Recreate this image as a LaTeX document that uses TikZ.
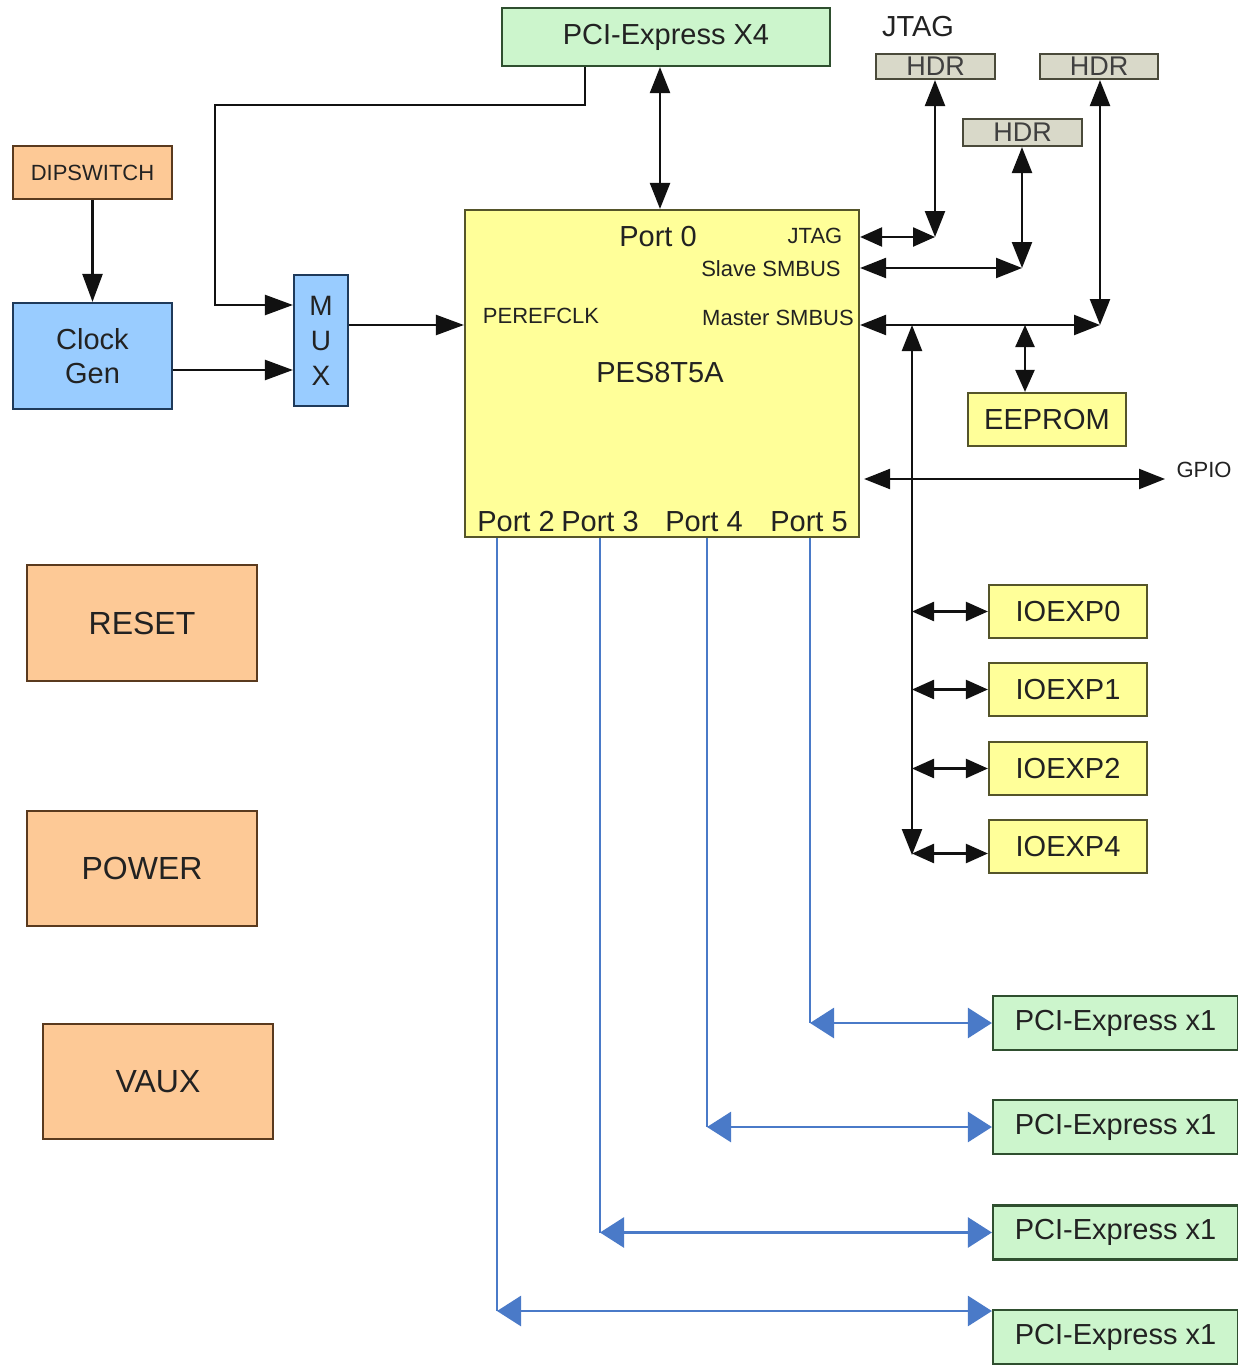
\documentclass[tikz,border=0pt]{standalone}
\usepackage{fontspec}
\setmainfont{Liberation Sans}
\usetikzlibrary{arrows.meta,calc}
\definecolor{txt}{HTML}{222222}
\definecolor{ln}{HTML}{111111}
\definecolor{gfill}{HTML}{CCF5CC}
\definecolor{gline}{HTML}{2F4F2F}
\definecolor{yfill}{HTML}{FFFF99}
\definecolor{yline}{HTML}{55552A}
\definecolor{ofill}{HTML}{FDC996}
\definecolor{oline}{HTML}{5A3A1E}
\definecolor{bfill}{HTML}{99CCFF}
\definecolor{bline}{HTML}{1F3A5A}
\definecolor{hfill}{HTML}{D9D9C9}
\definecolor{hline}{HTML}{4A4A3A}
\definecolor{bl}{HTML}{4A7AC8}
\newcommand\bigf{\fontsize{29}{34}\selectfont}
\newcommand\smallf{\fontsize{22}{26}\selectfont}
\newcommand\resf{\fontsize{32}{36}\selectfont}
\begin{document}
\begin{tikzpicture}[x=1pt,y=-1pt,
  box/.style={draw, line width=2.2pt, inner sep=0pt, align=center, text=txt, font=\bigf},
  gbox/.style={box, fill=gfill, draw=gline},
  ybox/.style={box, fill=yfill, draw=yline},
  obox/.style={box, fill=ofill, draw=oline},
  bbox/.style={box, fill=bfill, draw=bline},
  hbox/.style={box, fill=hfill, draw=hline, font=\fontsize{27}{30}\selectfont, text=black!75},
  lbl/.style={inner sep=0pt, text=txt, font=\bigf},
  slbl/.style={inner sep=0pt, text=txt, font=\smallf},
  arr/.style={line width=2.4pt, draw=ln, -{Triangle[length=28pt,width=20pt]}},
  dbl/.style={line width=2.4pt, draw=ln, {Triangle[length=26pt,width=20pt]}-{Triangle[length=26pt,width=20pt]}},
  sdbl/.style={line width=2.4pt, draw=ln, {Triangle[length=22pt,width=19pt]}-{Triangle[length=22pt,width=19pt]}},
  bplain/.style={line width=2pt, draw=bl},
  bdbl/.style={line width=2.6pt, draw=bl, {Triangle[length=24pt,width=30pt]}-{Triangle[length=24pt,width=30pt]}}
]
\useasboundingbox (0,0) rectangle (1238,1365);
\fill[white] (0,0) rectangle (1238,1365);

% boxes
\node[gbox, minimum width=328pt, minimum height=58pt] (pcix4) at (666,37) {PCI-Express X4};
\node[lbl] (jtaglbl) at (918,27) {JTAG};
\node[hbox, minimum width=119pt, minimum height=25pt] (hdr1) at (935.5,66.5) {HDR};
\node[hbox, minimum width=118pt, minimum height=25pt] (hdr2) at (1099,66.5) {HDR};
\node[hbox, minimum width=119pt, minimum height=27pt] (hdr3) at (1022.5,132.5) {HDR};
\node[obox, minimum width=159pt, minimum height=53pt, font=\smallf] (dip) at (92.5,172.5) {DIPSWITCH};
\node[bbox, minimum width=159pt, minimum height=106pt] (clk) at (92.5,356) {Clock\\Gen};
\node[bbox, minimum width=54pt, minimum height=131pt, font=\fontsize{28}{35}\selectfont] (mux) at (321,340.5) {M\\U\\X};
\node[ybox, minimum width=394pt, minimum height=327pt] (pes) at (662,373.5) {};
\node[ybox, minimum width=158pt, minimum height=53pt] (eeprom) at (1047,419.5) {EEPROM};
\node[ybox, minimum width=158pt, minimum height=53pt] (io0) at (1068,611.5) {IOEXP0};
\node[ybox, minimum width=158pt, minimum height=53pt] (io1) at (1068,689.5) {IOEXP1};
\node[ybox, minimum width=158pt, minimum height=53pt] (io2) at (1068,768.5) {IOEXP2};
\node[ybox, minimum width=158pt, minimum height=53pt] (io4) at (1068,846.5) {IOEXP4};
\node[obox, minimum width=230pt, minimum height=116pt, font=\resf] (reset) at (142,623) {RESET};
\node[obox, minimum width=230pt, minimum height=115pt, font=\resf] (power) at (142,868.5) {POWER};
\node[obox, minimum width=230pt, minimum height=115pt, font=\resf] (vaux) at (158,1081.5) {VAUX};
\node[gbox, minimum width=245pt, minimum height=54pt] (pe1) at (1115.5,1023) {PCI-Express x1};
\node[gbox, minimum width=245pt, minimum height=54pt] (pe2) at (1115.5,1127) {PCI-Express x1};
\node[gbox, minimum width=245pt, minimum height=54pt] (pe3) at (1115.5,1232.5) {PCI-Express x1};
\node[gbox, minimum width=245pt, minimum height=54pt] (pe4) at (1115.5,1337) {PCI-Express x1};

% labels inside PES
\node[lbl] (port0) at (658,237) {Port 0};
\node[slbl] (jtagin) at (815,236) {JTAG};
\node[slbl] (slave) at (771,269) {Slave SMBUS};
\node[slbl] (master) at (778,318) {Master SMBUS};
\node[slbl] (perefclk) at (541,316) {PEREFCLK};
\node[lbl] (pesname) at (660,373) {PES8T5A};
\node[lbl] (port2) at (516,522) {Port 2};
\node[lbl] (port3) at (600,522) {Port 3};
\node[lbl] (port4) at (704,522) {Port 4};
\node[lbl] (port5) at (809,522) {Port 5};
\node[slbl] (gpio) at (1204,470) {GPIO};

% coordinates
\coordinate (muxfeed) at (215,105);
\coordinate (jc) at (935,237);
\coordinate (sc) at (1022,268);
\coordinate (mc) at (1100,325);
\coordinate (ee) at (1025,325);
\coordinate (bt) at (912,325);
\coordinate (bb) at (912,855);
\coordinate (gp) at (1165,479);
\coordinate (c5) at (810,1023);
\coordinate (c4) at (707,1127);
\coordinate (c3) at (600,1232.5);
\coordinate (c2) at (497,1311);

% black connectors
\draw[dbl] ([xshift=-6pt]pcix4.south) -- ([xshift=-6pt]pcix4.south |- pes.north);
\draw[arr] ([xshift=-81pt]pcix4.south) |- (muxfeed) |- ([yshift=35.5pt]mux.west);
\draw[arr] (dip.south) -- (clk.north);
\draw[arr] ([yshift=-14pt]clk.east) -- ([yshift=-14pt]clk.east -| mux.west);
\draw[arr] ([yshift=15.5pt]mux.east) -- ([yshift=15.5pt]mux.east -| pes.west);
\draw[sdbl] (pes.east |- jc) -- (jc);
\draw[dbl] (jc |- hdr1.south) -- (jc);
\draw[dbl] (pes.east |- sc) -- (sc);
\draw[dbl] (sc |- hdr3.south) -- (sc);
\draw[dbl] (pes.east |- mc) -- (mc);
\draw[dbl] (mc |- hdr2.south) -- (mc);
\draw[sdbl] (ee) -- (ee |- eeprom.north);
\draw[dbl] (bt) -- (bb);
\draw[sdbl] (bb |- io0.west) -- (io0.west);
\draw[sdbl] (bb |- io1.west) -- (io1.west);
\draw[sdbl] (bb |- io2.west) -- (io2.west);
\draw[sdbl] ([yshift=-7pt]bb |- io4.west) -- ([yshift=-7pt]io4.west);
\draw[dbl] ([xshift=4pt]pes.east |- gp) -- (gp);

% blue connectors
\draw[bplain] (c5 |- pes.south) -- (c5);
\draw[bdbl] (c5) -- (c5 -| pe1.west);
\draw[bplain] (c4 |- pes.south) -- (c4);
\draw[bdbl] (c4) -- (c4 -| pe2.west);
\draw[bplain] (c3 |- pes.south) -- (c3);
\draw[bdbl] (c3) -- (c3 -| pe3.west);
\draw[bplain] (c2 |- pes.south) -- (c2);
\draw[bdbl] (c2) -- (c2 -| pe4.west);
\end{tikzpicture}
\end{document}
